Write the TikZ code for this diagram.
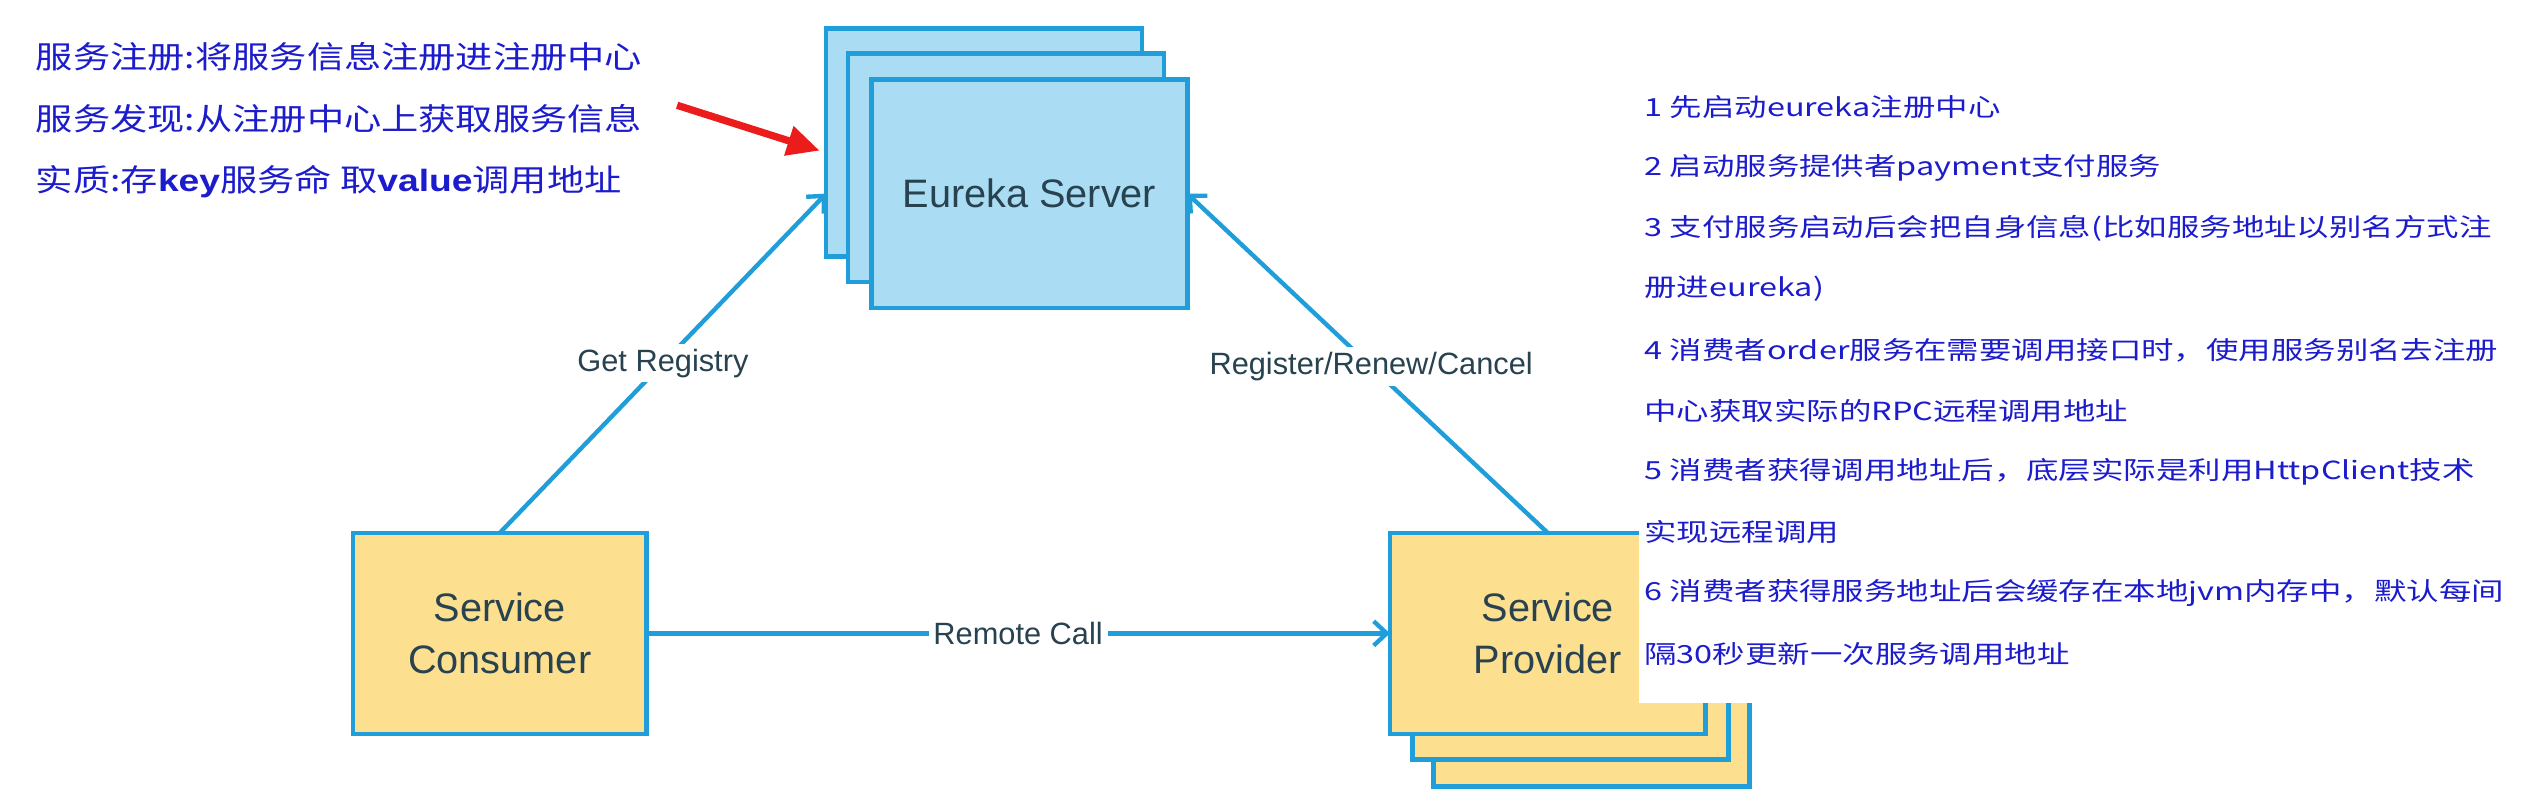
\documentclass[tikz,border=0pt]{standalone}
\usepackage{fontspec}
\usepackage{graphicx}
\setmainfont{Liberation Sans}
\newfontfamily\cjk{Noto Sans CJK SC}
\usetikzlibrary{arrows.meta,calc}
\definecolor{edgeblue}{RGB}{32,158,218}
\definecolor{boxblue}{RGB}{170,221,243}
\definecolor{boxyellow}{RGB}{253,224,143}
\definecolor{boxtext}{RGB}{40,66,80}
\definecolor{notecol}{RGB}{28,28,204}
\definecolor{redarrow}{RGB}{236,28,28}
\begin{document}
\begin{tikzpicture}[x=1pt,y=-1pt,
  srv/.style={draw=edgeblue,line width=2.8pt,fill=boxblue,minimum width=195pt,minimum height=141pt,inner sep=0pt,outer sep=0pt,text=boxtext,font=\fontsize{24.5}{31}\selectfont},
  cli/.style={draw=edgeblue,line width=2.8pt,fill=boxyellow,minimum width=195pt,minimum height=124pt,inner sep=0pt,outer sep=0pt,align=center,text=boxtext,font=\fontsize{24.5}{32}\selectfont},
  link/.style={draw=edgeblue,line width=2.7pt,-{Straight Barb[length=8pt,width=15pt,line width=2.7pt]}},
  linklabel/.style={fill=white,text=boxtext,font=\fontsize{19}{19}\selectfont,inner sep=3pt},
  leftnote/.style={anchor=west,inner sep=0pt,text=notecol,font=\cjk\fontsize{19}{19}\selectfont},
  rightnote/.style={anchor=west,inner sep=0pt,text=notecol,font=\cjk\fontsize{15.4}{15.4}\selectfont},
]
\useasboundingbox (0,0) rectangle (1560,499.4);

% Eureka server stack
\node[srv] (eureka3) at (607.5,88) {};
\node[srv] (eureka2) at (621,103.5) {};
\node[srv] (eureka) at (635.5,119.5) {Eureka Server};

% consumer
\node[cli,minimum width=181pt] (consumer) at (308.5,391) {Service\\Consumer};

% provider stack
\node[cli] (provider3) at (982.5,423.5) {};
\node[cli] (provider2) at (969.5,407) {};
\node[cli] (provider) at (955.5,391) {Service\\Provider};

% connectors
\draw[link] (consumer.north) -- node[linklabel,pos=0.5] (lblget) {Get Registry} (eureka3.west |- eureka.center);
\draw[link] (provider.north) -- node[linklabel,pos=0.49] (lblreg) {Register/Renew/Cancel} (eureka.east);
\draw[link] (consumer.east) -- node[linklabel] (lblcall) {Remote Call} (provider.west);

% red arrow
\coordinate (redS) at (418,65);
\coordinate (redE) at (506,93);
\draw[redarrow,line width=4.5pt,-{Triangle[length=20pt,width=18pt]}] (redS) -- (redE);

% left notes
\node[leftnote] (n1) at (22,35) {\scalebox{1.21}[1]{服务注册:将服务信息注册进注册中心}};
\node[leftnote] (n2) at (22,73.5) {\scalebox{1.21}[1]{服务发现:从注册中心上获取服务信息}};
\node[leftnote] (n3) at (22,112) {\scalebox{1.21}[1]{实质:存{\normalfont\bfseries key}服务命 取{\normalfont\bfseries value}调用地址}};

% right notes panel
\fill[white] (1012,40) rectangle (1560,434);
\node[rightnote] (r1) at (1015,66) {\scalebox{1.3}[1]{1 先启动eureka注册中心}};
\node[rightnote] (r2) at (1015,103.5) {\scalebox{1.3}[1]{2 启动服务提供者payment支付服务}};
\node[rightnote] (r3) at (1015,141) {\scalebox{1.3}[1]{3 支付服务启动后会把自身信息(比如服务地址以别名方式注}};
\node[rightnote] (r4) at (1015,178.5) {\scalebox{1.3}[1]{册进eureka)}};
\node[rightnote] (r5) at (1015,216) {\scalebox{1.3}[1]{4 消费者order服务在需要调用接口时，使用服务别名去注册}};
\node[rightnote] (r6) at (1015,253.5) {\scalebox{1.3}[1]{中心获取实际的RPC远程调用地址}};
\node[rightnote] (r7) at (1015,291) {\scalebox{1.3}[1]{5 消费者获得调用地址后，底层实际是利用HttpClient技术}};
\node[rightnote] (r8) at (1015,328.5) {\scalebox{1.3}[1]{实现远程调用}};
\node[rightnote] (r9) at (1015,366) {\scalebox{1.3}[1]{6 消费者获得服务地址后会缓存在本地jvm内存中，默认每间}};
\node[rightnote] (r10) at (1015,403.5) {\scalebox{1.3}[1]{隔30秒更新一次服务调用地址}};
\end{tikzpicture}
\end{document}
